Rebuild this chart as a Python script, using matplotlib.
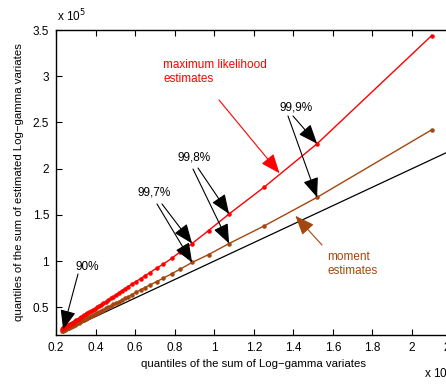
import matplotlib
matplotlib.use("Agg")
import matplotlib.pyplot as plt

plt.rcParams['font.family'] = ['Liberation Sans', 'DejaVu Sans']

# quantiles of the sum of Log-gamma variates (x 10^5)
q_true = [0.232, 0.234, 0.236, 0.239, 0.242, 0.245, 0.248, 0.252, 0.256, 0.260,
          0.264, 0.269, 0.274, 0.279, 0.284, 0.289, 0.295, 0.301, 0.307, 0.314,
          0.321, 0.328, 0.335, 0.343, 0.351, 0.359, 0.368, 0.377, 0.386, 0.396,
          0.406, 0.417, 0.428, 0.439, 0.451, 0.463, 0.476, 0.489, 0.503, 0.517,
          0.532, 0.548, 0.565, 0.582, 0.604, 0.628, 0.649, 0.675, 0.709, 0.742,
          0.784, 0.828, 0.888, 0.971, 1.075, 1.252, 1.520, 2.099]

# maximum likelihood estimates
q_ml = [0.269, 0.272, 0.274, 0.278, 0.282, 0.285, 0.289, 0.294, 0.299, 0.304,
        0.309, 0.316, 0.322, 0.329, 0.335, 0.342, 0.349, 0.357, 0.365, 0.374,
        0.383, 0.392, 0.402, 0.412, 0.423, 0.434, 0.446, 0.458, 0.470, 0.484,
        0.498, 0.513, 0.528, 0.544, 0.561, 0.578, 0.596, 0.615, 0.635, 0.656,
        0.678, 0.702, 0.724, 0.750, 0.778, 0.811, 0.840, 0.876, 0.924, 0.967,
        1.028, 1.100, 1.190, 1.330, 1.510, 1.800, 2.270, 3.440]

# moment estimates
q_mom = [0.245, 0.247, 0.249, 0.252, 0.256, 0.259, 0.262, 0.266, 0.271, 0.275,
         0.280, 0.285, 0.290, 0.296, 0.301, 0.307, 0.313, 0.320, 0.326, 0.334,
         0.342, 0.350, 0.357, 0.366, 0.375, 0.384, 0.394, 0.404, 0.414, 0.425,
         0.436, 0.448, 0.461, 0.473, 0.487, 0.500, 0.515, 0.530, 0.546, 0.561,
         0.579, 0.597, 0.615, 0.637, 0.663, 0.688, 0.713, 0.742, 0.778, 0.815,
         0.862, 0.913, 0.985, 1.070, 1.190, 1.380, 1.690, 2.420]

ref_x = [0.232, 2.4]

red = '#ff0000'
brown = '#a3470f'

fig = plt.figure(figsize=(4.46, 3.85), dpi=100)
ax = fig.add_axes([0.1256, 0.1299, 0.887, 0.792])

ax.plot(ref_x, ref_x, color='k', lw=0.9)
ax.plot(q_true, q_mom, color=brown, lw=1.0, marker='.', ms=4.5)
ax.plot(q_true, q_ml, color=red, lw=1.0, marker='.', ms=4.5)

ax.set_xlim(0.2, 2.2)
ax.set_ylim(0.2, 3.5)
ax.set_xticks([0.2, 0.4, 0.6, 0.8, 1, 1.2, 1.4, 1.6, 1.8, 2, 2.2])
ax.set_xticklabels(['0.2', '0.4', '0.6', '0.8', '1', '1.2', '1.4', '1.6', '1.8', '2', '2.2'])
ax.set_yticks([0.5, 1, 1.5, 2, 2.5, 3, 3.5])
ax.set_yticklabels(['0.5', '1', '1.5', '2', '2.5', '3', '3.5'])
ax.tick_params(direction='in', top=True, right=True, length=4, width=0.8,
               labelsize=8.5, pad=5)
for s in ax.spines.values():
    s.set_linewidth(1.0)

ax.set_xlabel('quantiles of the sum of Log\u2212gamma variates', fontsize=8.2, labelpad=4)
ax.set_ylabel('quantiles of the sum of estimated Log\u2212gamma variates', fontsize=8.2,
              labelpad=6)

fig.text(57 / 446, 1 - 16 / 385, r'x 10$^5$', fontsize=8.5, va='center', ha='left')
fig.text(424 / 446, 1 - 373 / 385, r'x 10$^5$', fontsize=8.5, va='center', ha='left')

blk = dict(arrowstyle='-|>,head_length=1.0,head_width=0.4', color='k', lw=0.8,
           shrinkA=0, shrinkB=0, mutation_scale=12)

def ann(text_xy_px, tip, color='k', props=blk):
    x0 = text_xy_px[0] / 446
    y0 = 1 - text_xy_px[1] / 385
    ax.annotate('', xy=tip, xycoords='data', xytext=(x0, y0),
                textcoords='figure fraction', arrowprops=dict(props, color=color))

# labels
fig.text(163 / 446, 1 - 59 / 385, 'maximum likelihood\nestimates', color=red,
         fontsize=8.5, va='top', ha='left', linespacing=1.25)
fig.text(327 / 446, 1 - 251 / 385, 'moment\nestimates', color=brown,
         fontsize=8.5, va='top', ha='left', linespacing=1.25)
ann((219, 100), (1.33, 1.95), red)
ann((322, 245), (1.41, 1.49), brown)

fig.text(75 / 446, 1 - 267 / 385, '90%', fontsize=8.5, va='center', ha='left')
ann((78, 274), (q_true[0] + 0.004, q_ml[0] - 0.01))

fig.text(138 / 446, 1 - 193 / 385, '99,7%', fontsize=8.5, va='center', ha='left')
ann((157, 204), (q_true[52], q_mom[52]))
ann((162, 204), (q_true[52], q_ml[52]))

fig.text(177 / 446, 1 - 158 / 385, '99,8%', fontsize=8.5, va='center', ha='left')
ann((193, 169), (q_true[54], q_mom[54]))
ann((198, 168), (q_true[54], q_ml[54]))

fig.text(280 / 446, 1 - 107 / 385, '99,9%', fontsize=8.5, va='center', ha='left')
ann((288, 116), (q_true[56], q_mom[56]))
ann((293, 116), (q_true[56], q_ml[56]))

fig.savefig('out.png', dpi=100)
